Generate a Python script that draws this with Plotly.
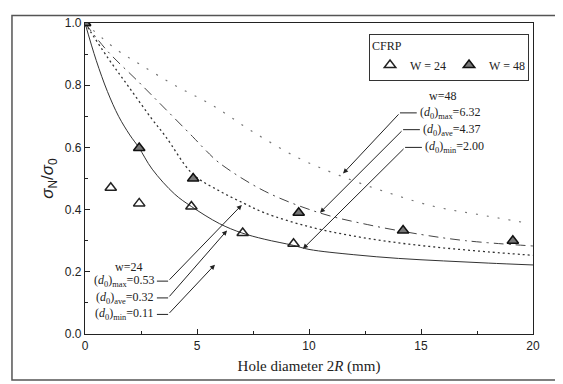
import plotly.graph_objects as go

# ---- data ----
w24_x = [0, 1.15, 2.42, 4.75, 7.04, 9.31]
w24_y = [1.0, 0.47, 0.42, 0.41, 0.325, 0.29]
w48_x = [0, 2.42, 4.83, 9.54, 14.2, 19.1]
w48_y = [1.0, 0.598, 0.50, 0.39, 0.333, 0.30]

# model curves
ca_x = [0, 0.5, 1, 1.5, 2, 2.4, 3, 4, 4.75, 6, 7, 8, 9.3, 10, 12, 14, 16, 18, 20]
ca_y = [1.0, 0.88, 0.78, 0.70, 0.64, 0.60, 0.53, 0.45, 0.41, 0.355, 0.325, 0.305, 0.285, 0.272, 0.255, 0.243, 0.235, 0.228, 0.222]
cb_x = [0, 1, 2, 3, 3.6, 4.8, 6, 7.1, 8, 10, 12, 14, 16, 18, 20]
cb_y = [1.0, 0.89, 0.79, 0.69, 0.635, 0.515, 0.46, 0.42, 0.39, 0.345, 0.315, 0.293, 0.277, 0.264, 0.253]
cc_x = [0, 1, 2.4, 3.5, 4.8, 5.4, 6, 8, 10.45, 12.6, 15, 17, 20]
cc_y = [1.0, 0.91, 0.81, 0.73, 0.635, 0.59, 0.55, 0.46, 0.39, 0.352, 0.32, 0.30, 0.283]
cd_x = [0, 1.4, 2.5, 4, 5.7, 7.5, 9.5, 11.35, 13.5, 15.6, 17.5, 19.8]
cd_y = [1.0, 0.915, 0.865, 0.80, 0.735, 0.65, 0.567, 0.51, 0.455, 0.41, 0.385, 0.356]

x_ticks = [0, 5, 10, 15, 20]
y_ticks = [0.0, 0.2, 0.4, 0.6, 0.8, 1.0]

# labels
w48_labels = ["(<i>d</i><sub>0</sub>)<sub>max</sub>=6.32",
              "(<i>d</i><sub>0</sub>)<sub>ave</sub>=4.37",
              "(<i>d</i><sub>0</sub>)<sub>min</sub>=2.00"]
w24_labels = ["(<i>d</i><sub>0</sub>)<sub>max</sub>=0.53",
              "(<i>d</i><sub>0</sub>)<sub>ave</sub>=0.32",
              "(<i>d</i><sub>0</sub>)<sub>min</sub>=0.11"]

SERIF = "Liberation Serif"
SANS = "Liberation Sans"
INK = "#222"

fig = go.Figure()
fig.add_trace(go.Scatter(x=ca_x, y=ca_y, mode="lines", line=dict(color="#333", width=1, shape="spline"), showlegend=False))
fig.add_trace(go.Scatter(x=cb_x, y=cb_y, mode="lines", line=dict(color="#333", width=1.3, dash="2px,3px", shape="spline"), showlegend=False))
fig.add_trace(go.Scatter(x=cc_x, y=cc_y, mode="lines", line=dict(color="#444", width=1, dash="10px,5px,2px,5px", shape="spline"), showlegend=False))
fig.add_trace(go.Scatter(x=cd_x, y=cd_y, mode="lines", line=dict(color="#777", width=1.2, dash="2px,9px", shape="spline"), showlegend=False))

fig.add_trace(go.Scatter(x=w24_x, y=w24_y, mode="markers", name="W = 24",
                         marker=dict(symbol="triangle-up-open", size=10, color=INK, line=dict(width=1.5))))
fig.add_trace(go.Scatter(x=w48_x, y=w48_y, mode="markers", name="W = 48",
                         marker=dict(symbol="triangle-up", size=10, color="#777", line=dict(color="#111", width=1.5))))

annotations = []
shapes = []

# W=48 arrows: (head x, head y, elbow x, elbow y)
w48_arrows = [(11.52, 0.516, 14.06, 0.711), (10.49, 0.39, 14.2, 0.657), (9.73, 0.274, 14.29, 0.60)]
for lab, (hx, hy, ex, ey) in zip(w48_labels, w48_arrows):
    annotations.append(dict(x=hx, y=hy, ax=ex, ay=ey, xref="x", yref="y", axref="x", ayref="y",
                            text="", showarrow=True, arrowhead=2, arrowsize=1, arrowwidth=1, arrowcolor=INK))
    shapes.append(dict(type="line", xref="x", yref="y", x0=ex, x1=ex + 0.75, y0=ey, y1=ey, line=dict(color=INK, width=1)))
    annotations.append(dict(x=ex + 0.8, y=ey, xref="x", yref="y", text=lab, showarrow=False, xanchor="left",
                            font=dict(family=SERIF, size=12, color=INK)))
annotations.append(dict(x=15.98, y=0.765, xref="x", yref="y", text="w=48", showarrow=False,
                        font=dict(family=SERIF, size=12, color=INK)))

# W=24 arrows
w24_arrows = [(7.0, 0.415, 3.71, 0.17), (6.34, 0.333, 3.71, 0.116), (5.8, 0.223, 3.71, 0.063)]
for lab, (hx, hy, ex, ey) in zip(w24_labels, w24_arrows):
    annotations.append(dict(x=hx, y=hy, ax=ex, ay=ey, xref="x", yref="y", axref="x", ayref="y",
                            text="", showarrow=True, arrowhead=2, arrowsize=1, arrowwidth=1, arrowcolor=INK))
    shapes.append(dict(type="line", xref="x", yref="y", x0=ex - 0.5, x1=ex, y0=ey, y1=ey, line=dict(color=INK, width=1)))
    annotations.append(dict(x=ex - 0.55, y=ey, xref="x", yref="y", text=lab, showarrow=False, xanchor="right",
                            font=dict(family=SERIF, size=12, color=INK)))
annotations.append(dict(x=1.92, y=0.215, xref="x", yref="y", text="w=24", showarrow=False,
                        font=dict(family=SERIF, size=12, color=INK)))

# outer frame (figure drawn inside the page's 8px body margin)
shapes.append(dict(type="rect", xref="paper", yref="paper", x0=-0.163, x1=1.0536, y0=-0.148, y1=1.024,
                   line=dict(color="#555", width=1.5)))

fig.update_layout(
    width=555, height=376,
    margin=dict(l=77, r=30, t=8, b=50),
    paper_bgcolor="white", plot_bgcolor="white",
    annotations=annotations, shapes=shapes,
    legend=dict(x=0.634, y=0.965, xanchor="left", yanchor="top", orientation="h",
                title=dict(text="CFRP", side="top", font=dict(family=SERIF, size=12, color=INK)),
                font=dict(family=SERIF, size=12, color=INK),
                bordercolor="#333", borderwidth=1, bgcolor="white", itemwidth=30, tracegroupgap=0,
                entrywidth=34, entrywidthmode="pixels"),
    xaxis=dict(range=[0, 20], tickvals=x_ticks, ticks="inside", ticklen=5, tickcolor=INK,
               minor=dict(dtick=2.5, ticks="inside", ticklen=3, tickcolor=INK),
               showline=True, linecolor=INK, linewidth=1.3, mirror=True, showgrid=False, zeroline=False,
               tickfont=dict(family=SANS, size=12, color=INK),
               title=dict(text="Hole diameter 2<i>R</i> (mm)", font=dict(family=SERIF, size=15, color=INK), standoff=8)),
    yaxis=dict(range=[0, 1.0], tickvals=y_ticks, tickformat=".1f", ticks="inside", ticklen=5, tickcolor=INK,
               minor=dict(dtick=0.1, ticks="inside", ticklen=3, tickcolor=INK),
               showline=True, linecolor=INK, linewidth=1.3, mirror=True, showgrid=False, zeroline=False,
               tickfont=dict(family=SANS, size=12, color=INK),
               title=dict(text="<i>σ</i><sub>N</sub>/<i>σ</i><sub>0</sub>", font=dict(family=SANS, size=17, color=INK), standoff=6)),
)

fig.write_html("out.html")
